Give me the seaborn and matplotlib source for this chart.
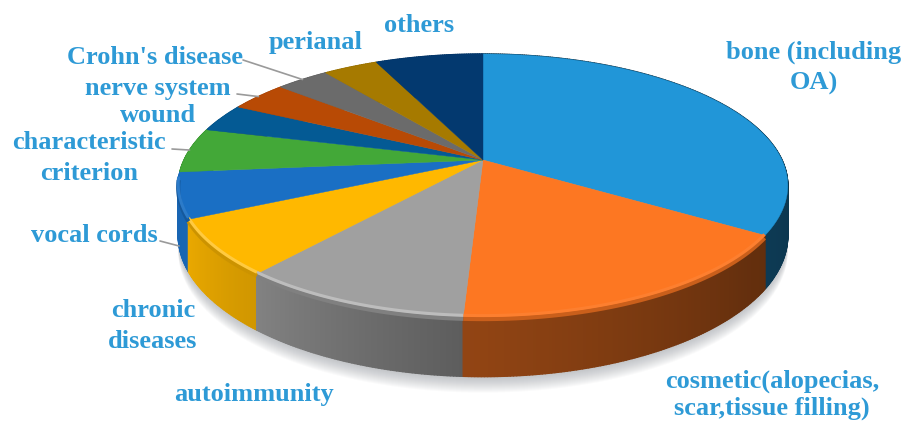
import numpy as np
import matplotlib
matplotlib.use("Agg")
import matplotlib.pyplot as plt
from matplotlib.collections import PolyCollection
import seaborn as sns

# Share of each application area, in percent, clockwise from twelve o'clock
categories = ["bone (including\nOA)", "cosmetic(alopecias,\nscar,tissue filling)", "autoimmunity",
              "chronic\ndiseases", "vocal cords", "characteristic\ncriterion", "wound",
              "nerve system", "Crohn's disease", "perianal", "others"]
shares = [34.0, 16.9, 10.3, 6.8, 5.6, 5.5, 3.5, 3.7, 3.4, 3.5, 6.9]
slice_colors = ["#2196D8", "#FD7722", "#A0A0A0", "#FFB800", "#1A6FC4", "#43A838",
                "#045A94", "#B84A05", "#6B6B6B", "#A67A00", "#03396F"]
rim_gloss = [0.05, 0.06, 0.30, 0.25, 0.08, 0.0, 0.0, 0.0, 0.0, 0.0, 0.0]
label_centres = [(814, 68), (772, 395), (254, 394), (153, 326), (94, 236), (89, 158),
                 (158, 115), (158, 88), (155, 58), (316, 42), (419, 25)]
label_spacing = [1.42, 1.18, 1.0, 1.42, 1.0, 1.42, 1.0, 1.0, 1.0, 1.0, 1.0]
# Leader lines: slice index, text-side start, fraction of the wall depth at the far end
leaders = [(8, (243, 60), 0.0), (7, (237, 94), 0.0), (5, (172, 149), 0.0), (4, (160, 241), 1.0)]

sns.set_theme(style="white")
plt.rcParams["font.family"] = ["Liberation Serif", "DejaVu Serif"]
palette = sns.color_palette(slice_colors)

CX, CY = 483, 160
A, B, K = 299.0, 126.6, 0.194
DEPTH = 48.0


def project(theta, drop=0.0):
    """Map clockwise angle (degrees from top) on the unit disc to canvas pixels in perspective."""
    t = np.radians(theta)
    x, y = np.sin(t), np.cos(t)
    w = 1 + K * y
    return CX + A * x / w, CY - B * y / w + drop * DEPTH / w


def wall_shade(theta):
    return np.interp(theta, [90, 130, 183, 221, 245, 270], [0.35, 0.40, 0.58, 0.82, 0.92, 0.90])


fig = plt.figure(figsize=(9.05, 4.21), dpi=100)
ax = fig.add_axes([0, 0, 1, 1])
ax.set_xlim(0, 905)
ax.set_ylim(421, 0)
ax.axis("off")

edges = np.concatenate([[0], np.cumsum(shares)]) / np.sum(shares) * 360

# Soft shadow under the front of the disc
ring = np.linspace(0, 360, 361)
bx, by = project(ring, 1.0)
for s in range(16, 0, -1):
    ax.fill(bx, by + s, color="#8a8f96", alpha=0.04, lw=0, zorder=1)

# Side wall, built from short quads so the shading can vary along the rim
quads, quad_cols, quad_y = [], [], []
for i, col in enumerate(palette):
    steps = np.arange(edges[i], edges[i + 1], 0.5)
    steps = np.append(steps, edges[i + 1])
    for a0, a1 in zip(steps[:-1], steps[1:]):
        x0, y0 = project(a0)
        x1, y1 = project(a1)
        x2, y2 = project(a1, 1.0)
        x3, y3 = project(a0, 1.0)
        f = wall_shade((a0 + a1) / 2)
        quads.append([(x0, y0), (x1, y1), (x2, y2), (x3, y3)])
        quad_cols.append(tuple(np.array(col) * f))
        quad_y.append((y0 + y1) / 2)
order = np.argsort(quad_y)
ax.add_collection(PolyCollection([quads[j] for j in order],
                                 facecolors=[quad_cols[j] for j in order],
                                 edgecolors=[quad_cols[j] for j in order],
                                 linewidths=1.0, zorder=2))

# Top face of each slice
for i, col in enumerate(palette):
    arc = np.linspace(edges[i], edges[i + 1], 80)
    ax_, ay_ = project(arc)
    ax.fill(np.r_[CX, ax_], np.r_[CY, ay_], color=col, lw=0.3, zorder=3)

# Bevel along the front of the rim
for i, col in enumerate(palette):
    lo, hi = max(edges[i], 122.5), min(edges[i + 1], 262)
    if hi <= lo:
        continue
    arc = np.linspace(lo, hi, 60)
    bevel_x, bevel_y = project(arc)
    base = np.array(col)
    ax.plot(bevel_x, bevel_y + 2.0, color=tuple(base * 0.80), lw=3, solid_capstyle="butt", zorder=4)
    ax.plot(bevel_x, bevel_y - 1.5, color=tuple(base + (1 - base) * rim_gloss[i]), lw=2.2,
            solid_capstyle="butt", zorder=4)

# Leader lines from the labels to their slices
for idx, start, drop in leaders:
    px, py = project((edges[idx] + edges[idx + 1]) / 2, drop)
    ax.plot([start[0], px], [start[1], py], color="#9a9a9a", lw=1.2, zorder=5)

for name, (lx, ly), gap in zip(categories, label_centres, label_spacing):
    ax.text(lx, ly, name, ha="center", va="center", color="#2E9AD6", fontsize=19,
            fontweight="bold", linespacing=gap, zorder=6)

fig.savefig("out.png", dpi=100, facecolor="white")
